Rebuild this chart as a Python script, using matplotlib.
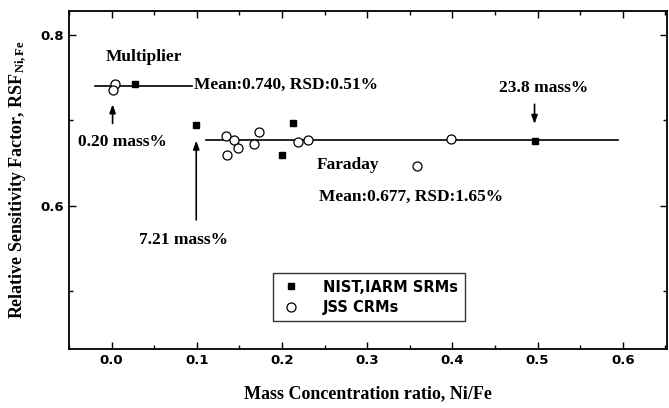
import matplotlib
matplotlib.use("Agg")
import matplotlib.pyplot as plt
from matplotlib.ticker import MultipleLocator

# NIST, IARM SRMs (filled squares)
srm_x = [0.028, 0.099, 0.213, 0.200, 0.497]
srm_y = [0.743, 0.695, 0.697, 0.659, 0.676]

# JSS CRMs (open circles)
crm_x = [0.004, 0.002, 0.134, 0.144, 0.149, 0.135, 0.167, 0.173, 0.219, 0.230, 0.398, 0.358]
crm_y = [0.743, 0.735, 0.682, 0.677, 0.668, 0.659, 0.672, 0.686, 0.674, 0.677, 0.678, 0.647]

# mean lines: (value, x start, x end)
mult_mean, mult_span = 0.740, (-0.02, 0.094)
far_mean, far_span = 0.677, (0.111, 0.594)

serif = dict(family="Liberation Serif", weight="bold")
plt.rcParams['mathtext.fontset'] = 'custom'
plt.rcParams['mathtext.rm'] = 'Liberation Serif:bold'
plt.rcParams['mathtext.it'] = 'Liberation Serif:bold'

fig = plt.figure(figsize=(6.69, 4.08), dpi=100)
ax = fig.add_axes([0.1031, 0.1446, 0.8939, 0.8284])

ax.plot(mult_span, [mult_mean, mult_mean], color='black', lw=1.2, zorder=1)
ax.plot(far_span, [far_mean, far_mean], color='black', lw=1.2, zorder=1)

ax.plot(srm_x, srm_y, 's', color='black', ms=5, label='NIST,IARM SRMs', zorder=3)
ax.plot(crm_x, crm_y, 'o', mfc='white', mec='black', mew=0.9, ms=6.5, label='JSS CRMs', zorder=3)

ax.set_xlim(-0.05, 0.652)
ax.set_ylim(0.432, 0.828)

ax.xaxis.set_major_locator(MultipleLocator(0.1))
ax.xaxis.set_minor_locator(MultipleLocator(0.05))
ax.set_yticks([0.6, 0.8])
ax.set_yticks([0.5, 0.7], minor=True)
ax.tick_params(which='both', direction='in', top=True, right=True, width=1.0)
ax.tick_params(which='major', length=5)
ax.tick_params(which='minor', length=3)
for lab in ax.get_xticklabels() + ax.get_yticklabels():
    lab.set_fontfamily('DejaVu Sans')
    lab.set_fontweight('heavy')
    lab.set_fontsize(9.5)
for s in ax.spines.values():
    s.set_linewidth(1.3)

ax.set_xlabel('Mass Concentration ratio, Ni/Fe', fontsize=13, labelpad=13, **serif)
ax.set_ylabel('Relative Sensitivity Factor, RSF$_{\\mathregular{Ni,Fe}}$', fontsize=13, labelpad=8, **serif)

# annotations
fs = 12.5
ax.text(-0.007, 0.774, 'Multiplier', fontsize=fs, va='center', ha='left', **serif)
ax.text(0.097, 0.7415, 'Mean:0.740, RSD:0.51%', fontsize=fs, va='center', ha='left', **serif)
ax.text(-0.039, 0.674, '0.20 mass%', fontsize=fs, va='center', ha='left', **serif)
ax.text(0.085, 0.560, '7.21 mass%', fontsize=fs, va='center', ha='center', **serif)
ax.text(0.241, 0.648, 'Faraday', fontsize=fs, va='center', ha='left', **serif)
ax.text(0.243, 0.610, 'Mean:0.677, RSD:1.65%', fontsize=fs, va='center', ha='left', **serif)
ax.text(0.560, 0.738, '23.8 mass%', fontsize=fs, va='center', ha='right', **serif)

arrow = dict(arrowstyle='-|>,head_length=0.5,head_width=0.18', color='black', lw=1.2)
ax.annotate('', xy=(0.0012, 0.722), xytext=(0.0012, 0.693), arrowprops=arrow)
ax.annotate('', xy=(0.0994, 0.6795), xytext=(0.0994, 0.580), arrowprops=arrow)
ax.annotate('', xy=(0.4965, 0.6924), xytext=(0.4965, 0.722), arrowprops=arrow)

leg = ax.legend(loc='upper left', bbox_to_anchor=(0.341, 0.225), borderaxespad=0, frameon=True,
                fancybox=False, edgecolor='black', handletextpad=1.4, borderpad=0.45,
                labelspacing=0.35, handlelength=1.6,
                prop=dict(family='DejaVu Sans', weight='heavy', size=10.5))
leg.get_frame().set_linewidth(1.0)

fig.savefig('out.png', dpi=100)
